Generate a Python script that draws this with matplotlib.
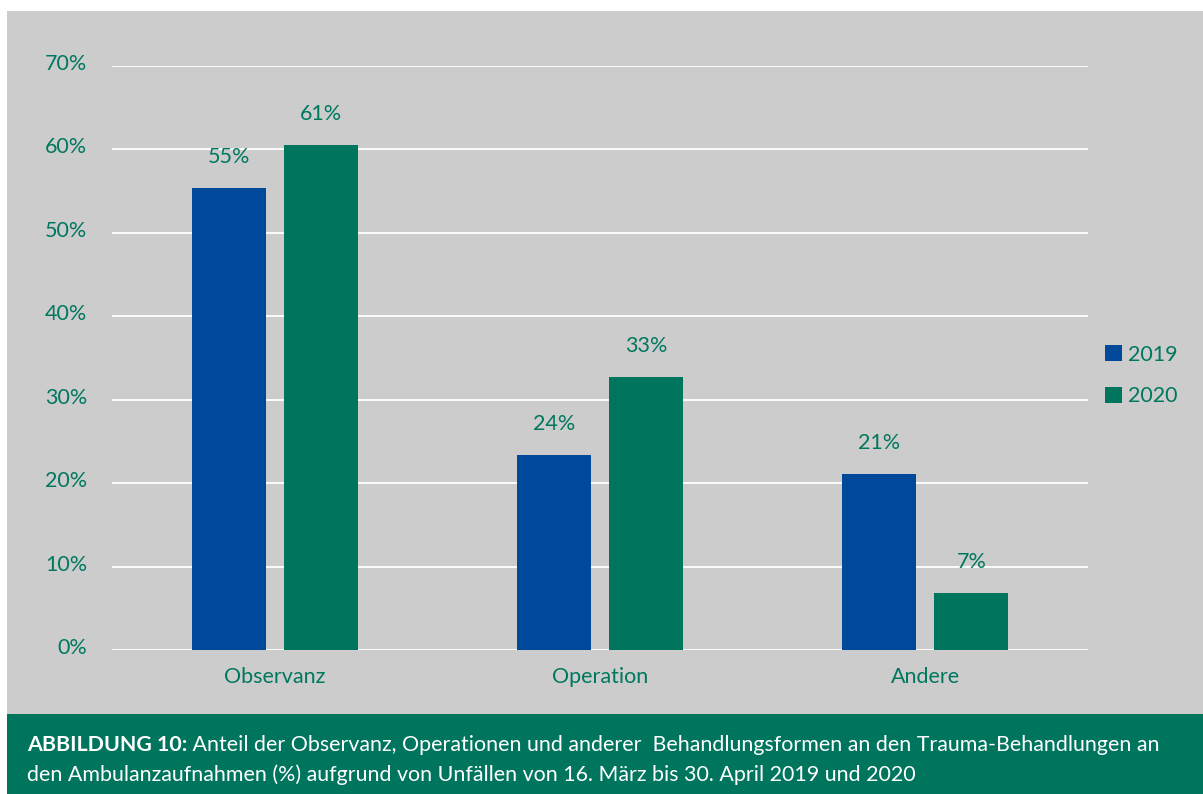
import matplotlib
matplotlib.use("Agg")
import matplotlib.pyplot as plt
from matplotlib.patches import Rectangle
from matplotlib.transforms import ScaledTranslation
import numpy as np

categories = ["Observanz", "Operation", "Andere"]
years = ["2019", "2020"]
values_2019 = [55.4, 23.4, 21.1]
values_2020 = [60.5, 32.7, 6.8]
labels_2019 = ["55%", "24%", "21%"]
labels_2020 = ["61%", "33%", "7%"]
yticks = [0, 10, 20, 30, 40, 50, 60, 70]
ytick_labels = ["0%", "10%", "20%", "30%", "40%", "50%", "60%", "70%"]
caption_bold = "ABBILDUNG 10:"
caption_line1 = " Anteil der Observanz, Operationen und anderer  Behandlungsformen an den Trauma-Behandlungen an"
caption_line2 = "den Ambulanzaufnahmen (%) aufgrund von Unfällen von 16. März bis 30. April 2019 und 2020"

BLUE = "#00489A"
GREEN = "#00755E"
TXT = "#00785F"
BG = "#CCCCCC"

plt.rcParams['font.family'] = ['Lato', 'DejaVu Sans']

W, H = 1203, 794
fig = plt.figure(figsize=(W / 100, H / 100), dpi=100)
fig.patch.set_facecolor("white")

# gray panel
fig.patches.append(Rectangle((7 / W, 0), 1 - 7 / W, (H - 11) / H, transform=fig.transFigure,
                             facecolor=BG, edgecolor="none", zorder=-3))
# green caption band
fig.patches.append(Rectangle((7 / W, 0), 1 - 7 / W, (H - 714) / H, transform=fig.transFigure,
                             facecolor=GREEN, edgecolor="none", zorder=-2))

ax = fig.add_axes([112 / W, (H - 650) / H, (1088 - 112) / W, (650 - 66) / H])
ax.set_zorder(1)
ax.set_facecolor("none")
x = np.arange(len(categories))
w = 0.228
off = 0.1415
b1 = ax.bar(x - off, values_2019, w, color=BLUE, label=years[0], zorder=3)
b2 = ax.bar(x + off, values_2020, w, color=GREEN, label=years[1], zorder=3)

for rect, lab in zip(b1, labels_2019):
    ax.annotate(lab, (rect.get_x() + rect.get_width() / 2, rect.get_height()),
                xytext=(0, 15), textcoords="offset points", ha="center", va="bottom",
                color=TXT, fontsize=15.5)
for rect, lab in zip(b2, labels_2020):
    ax.annotate(lab, (rect.get_x() + rect.get_width() / 2, rect.get_height()),
                xytext=(0, 15), textcoords="offset points", ha="center", va="bottom",
                color=TXT, fontsize=15.5)

ax.set_xlim(-0.5, 2.5)
ax.set_ylim(0, 70)
ax.set_yticks(yticks)
ax.set_yticklabels(ytick_labels)
ax.set_xticks(x)
ax.set_xticklabels(categories)
ax.tick_params(axis="y", length=0, pad=18, labelsize=15.5, labelcolor=TXT)
ax.tick_params(axis="x", length=0, pad=12, labelsize=15.5, labelcolor=TXT)
for lab in ax.get_yticklabels():
    lab.set_transform(lab.get_transform() + ScaledTranslation(0, 4 / 100, fig.dpi_scale_trans))
ax.grid(axis="y", color="white", linewidth=1.3, zorder=0)
ax.set_axisbelow(True)
for s in ax.spines.values():
    s.set_visible(False)

leg = ax.legend(loc="center left", bbox_to_anchor=(0.998, 0.47), frameon=False,
                fontsize=15.5, handlelength=0.75, handleheight=0.75, handletextpad=0.3,
                labelspacing=1.0, labelcolor=TXT)

# caption
t = fig.text(27 / W, 1 - 745 / H, caption_bold, color="white", fontsize=15.4, fontweight="bold",
             va="center", ha="left")
fig.canvas.draw()
bb = t.get_window_extent()
fig.text(bb.x1 / W, 1 - 745 / H, caption_line1, color="white", fontsize=15.4, va="center", ha="left")
fig.text(27 / W, 1 - 775 / H, caption_line2, color="white", fontsize=15.4, va="center", ha="left")

fig.savefig("out.png", dpi=100, facecolor=fig.get_facecolor())
